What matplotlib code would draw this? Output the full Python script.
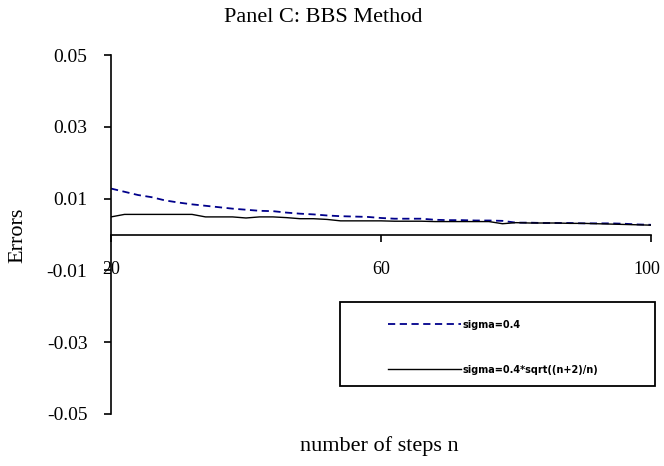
import matplotlib
matplotlib.use("Agg")
import matplotlib.pyplot as plt
import matplotlib.transforms as mtransforms
from matplotlib.patches import Rectangle

plt.rcParams['font.family'] = ['Liberation Serif', 'DejaVu Serif']
plt.rcParams['axes.unicode_minus'] = False

# number of steps
n = [20, 22, 24, 26, 28, 30, 32, 34, 36, 38, 40, 42, 44, 46, 48, 50, 52, 54, 56, 58,
     60, 62, 64, 66, 68, 70, 72, 74, 76, 78, 80, 82, 84, 86, 88, 90, 92, 94, 96, 98, 100]

# errors, sigma = 0.4
err_sigma = [0.0128, 0.0119, 0.0110, 0.0104, 0.0095, 0.0089, 0.0084, 0.0080, 0.0076, 0.0072,
             0.0069, 0.0066, 0.0065, 0.0061, 0.0058, 0.0056, 0.0053, 0.0051, 0.0050, 0.0049,
             0.0046, 0.0044, 0.0044, 0.0044, 0.0041, 0.0040, 0.0040, 0.0039, 0.0039, 0.0038,
             0.0033, 0.0033, 0.0032, 0.0032, 0.0032, 0.0031, 0.0031, 0.0031, 0.0030, 0.0028,
             0.0027]

# errors, sigma = 0.4*sqrt((n+2)/n)
err_adj = [0.0049, 0.0056, 0.0056, 0.0056, 0.0056, 0.0056, 0.0056, 0.0049, 0.0049, 0.0049,
           0.0046, 0.0049, 0.0049, 0.0047, 0.0044, 0.0044, 0.0042, 0.0038, 0.0038, 0.0038,
           0.0038, 0.0037, 0.0037, 0.0037, 0.0036, 0.0036, 0.0036, 0.0036, 0.0036, 0.0030,
           0.0033, 0.0032, 0.0032, 0.0032, 0.0031, 0.0031, 0.0030, 0.0029, 0.0028, 0.0027,
           0.0026]

y_ticks = [-0.05, -0.03, -0.01, 0.01, 0.03, 0.05]
x_ticks = [20, 60, 100]

W, H = 664, 466
fig = plt.figure(figsize=(W / 100, H / 100), dpi=100)
ax = fig.add_axes([111 / W, 1 - 414 / H, 540 / W, 359 / H])

ax.plot(n, err_sigma, color='#00008B', lw=1.3, ls=(0, (4, 2.5)), label='sigma=0.4')
ax.plot(n, err_adj, color='black', lw=1.0, label='sigma=0.4*sqrt((n+2)/n)')

ax.set_xlim(20, 100)
ax.set_ylim(-0.05, 0.05)
ax.set_xticks(x_ticks)
ax.set_yticks(y_ticks)
ax.set_yticklabels([f'{v:.2f}' for v in y_ticks])

for s in ['top', 'right']:
    ax.spines[s].set_visible(False)
ax.spines['bottom'].set_position(('data', 0))
ax.spines['left'].set_linewidth(1.2)
ax.spines['bottom'].set_linewidth(1.2)
ax.tick_params(axis='y', direction='out', length=5, width=1.2, labelsize=14, pad=12)
ax.tick_params(axis='x', direction='out', length=5, width=1.2, labelsize=13, pad=14)

# nudge the last x label inward so it stays inside the figure
last = ax.get_xticklabels()[-1]
last.set_transform(last.get_transform() +
                   mtransforms.ScaledTranslation(-4 / 100, 0, fig.dpi_scale_trans))

fig.text(323 / W, 1 - 18 / H, 'Panel C: BBS Method', ha='center', va='center', fontsize=16)
fig.text(18 / W, 1 - 235 / H, 'Errors', rotation=90, ha='center', va='center', fontsize=16)
fig.text(379 / W, 1 - 446 / H, 'number of steps n', ha='center', va='center', fontsize=16)

# legend box
fig.patches.append(Rectangle((340 / W, 1 - 386 / H), 315 / W, 84 / H,
                             transform=fig.transFigure, fill=False, ec='black', lw=1.3))
leg = ax.legend(loc='upper left', bbox_to_anchor=(383 / W, 1 - 315 / H),
                bbox_transform=fig.transFigure, frameon=False, borderpad=0,
                handlelength=7.5, handletextpad=0.2, labelspacing=3.6,
                prop={'family': 'DejaVu Sans', 'weight': 'bold', 'size': 7})

fig.savefig('out.png', dpi=100)
